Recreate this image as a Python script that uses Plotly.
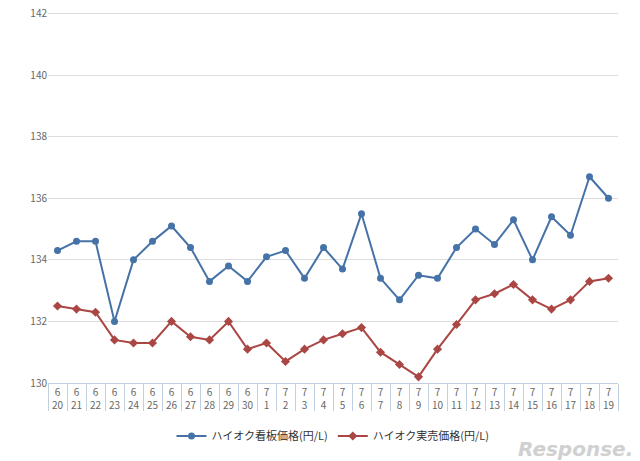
import plotly.graph_objects as go

dates = ["6<br>20","6<br>21","6<br>22","6<br>23","6<br>24","6<br>25","6<br>26","6<br>27","6<br>28","6<br>29","6<br>30",
         "7<br>1","7<br>2","7<br>3","7<br>4","7<br>5","7<br>6","7<br>7","7<br>8","7<br>9","7<br>10","7<br>11","7<br>12",
         "7<br>13","7<br>14","7<br>15","7<br>16","7<br>17","7<br>18","7<br>19"]
board = [134.3,134.6,134.6,132.0,134.0,134.6,135.1,134.4,133.3,133.8,133.3,134.1,134.3,133.4,134.4,133.7,135.5,133.4,
         132.7,133.5,133.4,134.4,135.0,134.5,135.3,134.0,135.4,134.8,136.7,136.0]
actual = [132.5,132.4,132.3,131.4,131.3,131.3,132.0,131.5,131.4,132.0,131.1,131.3,130.7,131.1,131.4,131.6,131.8,131.0,
          130.6,130.2,131.1,131.9,132.7,132.9,133.2,132.7,132.4,132.7,133.3,133.4]

fig = go.Figure()
fig.add_trace(go.Scatter(x=dates, y=board, name="ハイオク看板価格(円/L)", mode="lines+markers",
                         line=dict(color="#4572a7", width=2), marker=dict(symbol="circle", size=7)))
fig.add_trace(go.Scatter(x=dates, y=actual, name="ハイオク実売価格(円/L)", mode="lines+markers",
                         line=dict(color="#aa4643", width=2), marker=dict(symbol="diamond", size=7)))
fig.update_layout(
    width=640, height=461, plot_bgcolor="white", paper_bgcolor="white",
    margin=dict(l=40, r=30, t=4, b=86, autoexpand=False),
    font=dict(family="Noto Sans CJK JP", size=10, color="#666"),
    legend=dict(orientation="h", x=0.5, xanchor="center", yref="container", y=0.04, yanchor="bottom",
                font=dict(size=11, color="#333")),
    xaxis=dict(type="category", ticks="outside", ticklen=27, tickcolor="#c0d0e0", tickson="boundaries",
               tickangle=0, showline=True, linecolor="#c0d0e0", showgrid=False, range=[-0.5, 29.5], automargin=False),
    yaxis=dict(range=[130, 142.05], tickvals=[130, 132, 134, 136, 138, 140, 142], gridcolor="#dddddd",
               zeroline=False, showline=False, automargin=False, ticklabeloverflow="allow"),
)
fig.add_annotation(text="<i><b>Response.</b></i>", xref="paper", yref="paper", x=1.03, y=-0.14,
                   xanchor="right", yanchor="top", showarrow=False, font=dict(size=20, color="#d0d0d0", family="DejaVu Sans"))
fig.write_html("out.html")
